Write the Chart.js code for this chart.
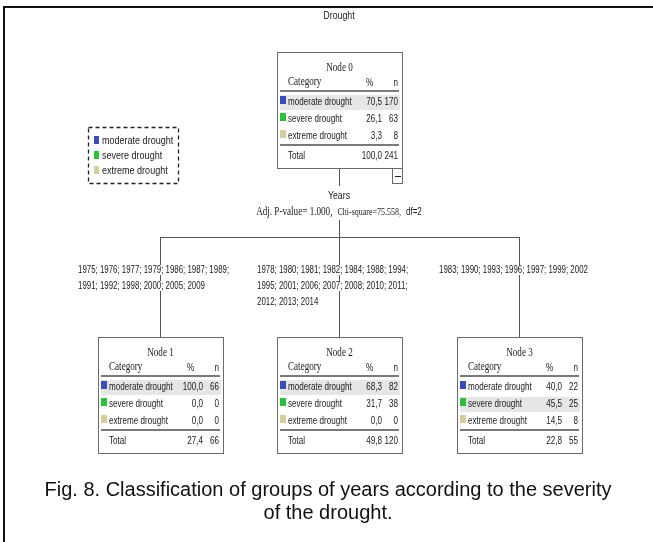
<!DOCTYPE html>
<html><head><meta charset="utf-8">
<script src="https://cdn.jsdelivr.net/npm/chart.js@4/dist/chart.umd.min.js"></script>
<style>html,body{margin:0;padding:0;background:#fff}#wrap{width:653px;height:542px;position:relative}</style>
</head><body><div id="wrap"><canvas id="c" width="653" height="542"></canvas></div>
<script>
// ---- data ----
const chartTitle = 'Drought';
const categories = ['moderate drought', 'severe drought', 'extreme drought'];
const categoryColors = ['#3b4cb4', '#2fbf3f', '#d5cd9c'];
const rootNode = 'Node 0';
const rootPct = [70.5, 26.1, 3.3];
const rootN = [170, 63, 8];
const rootTotalPct = 100.0;
const rootTotalN = 241;
const splitVariable = 'Years';
const splitStats = ['Adj. P-value= 1.000,', 'Chi-square=75.558,', 'df=2'];
const childNodes = ['Node 1', 'Node 2', 'Node 3'];
const node1Pct = [100.0, 0.0, 0.0];
const node1N = [66, 0, 0];
const node2Pct = [68.3, 31.7, 0.0];
const node2N = [82, 38, 0];
const node3Pct = [40.0, 45.5, 14.5];
const node3N = [22, 25, 8];
const childTotalPct = [27.4, 49.8, 22.8];
const childTotalN = [66, 120, 55];
const yearGroups = [
  ['1975; 1976; 1977; 1979; 1986; 1987; 1989;', '1991; 1992; 1998; 2000; 2005; 2009'],
  ['1978; 1980; 1981; 1982; 1984; 1988; 1994;', '1995; 2001; 2006; 2007; 2008; 2010; 2011;', '2012; 2013; 2014'],
  ['1983; 1990; 1993; 1996; 1997; 1999; 2002']
];
const captionLines = ['Fig. 8. Classification of groups of years according to the severity', 'of the drought.'];

const childPct = [node1Pct, node2Pct, node3Pct];
const childN = [node1N, node2N, node3N];

// ---- drawing helpers ----
const SANS = '"Liberation Sans", Arial, sans-serif';
const SERIF = '"Liberation Serif", "Times New Roman", serif';
const NF = '10.5px ' + SANS, NS = 0.77;   // narrow sans emulation
const YF = '10.5px ' + SANS, YS = 0.75;   // year lists
const TF = '13px ' + SERIF, TS = 0.7;     // condensed serif emulation
const fmt = v => v.toFixed(1).replace('.', ',');

function txt(ctx, s, x, y, align, font, sx) {
  ctx.save();
  ctx.font = font;
  ctx.textAlign = align;
  ctx.textBaseline = 'middle';
  ctx.translate(x, y);
  ctx.scale(sx, 1);
  ctx.fillText(s, 0, 0);
  ctx.restore();
}
function tw(ctx, s, font, sx) {
  ctx.save(); ctx.font = font; const w = ctx.measureText(s).width * sx; ctx.restore(); return w;
}

function drawNode(ctx, cx, T, name, pct, n, totPct, totN, withMinus) {
  const W = 125, H = 116;
  const L = Math.round(cx - W / 2);
  ctx.save();
  ctx.fillStyle = '#fff';
  ctx.fillRect(L, T, W, H);
  ctx.strokeStyle = '#6a6a6a';
  ctx.lineWidth = 1;
  ctx.setLineDash([]);
  ctx.strokeRect(L + 0.5, T + 0.5, W, H);
  let mi = 0;
  n.forEach((v, i) => { if (v > n[mi]) mi = i; });
  ctx.fillStyle = '#e6e6e6';
  ctx.fillRect(L + 3, T + 50 + mi * 17 - 7, W - 5, 15);
  ctx.fillStyle = '#1a1a1a';
  txt(ctx, name, L + W / 2, T + 16, 'center', TF, TS);
  txt(ctx, 'Category', L + 11, T + 30, 'left', TF, TS);
  txt(ctx, '%', L + 92.5, T + 31, 'center', NF, NS);
  txt(ctx, 'n', L + 121, T + 31, 'right', NF, NS);
  ctx.strokeStyle = '#7a7a7a';
  ctx.lineWidth = 2;
  ctx.beginPath();
  ctx.moveTo(L + 3, T + 39); ctx.lineTo(L + W - 3, T + 39);
  ctx.moveTo(L + 3, T + 93); ctx.lineTo(L + W - 3, T + 93);
  ctx.stroke();
  categories.forEach((c, i) => {
    const y = T + 50 + i * 17;
    ctx.fillStyle = categoryColors[i];
    ctx.fillRect(L + 3, y - 6, 6, 8);
    ctx.fillStyle = '#1a1a1a';
    txt(ctx, c, L + 11, y, 'left', NF, NS);
    txt(ctx, fmt(pct[i]), L + 105, y, 'right', NF, NS);
    txt(ctx, String(n[i]), L + 121, y, 'right', NF, NS);
  });
  txt(ctx, 'Total', L + 11, T + 104, 'left', NF, NS);
  txt(ctx, fmt(totPct), L + 105, T + 104, 'right', NF, NS);
  txt(ctx, String(totN), L + 121, T + 104, 'right', NF, NS);
  if (withMinus) {
    ctx.fillStyle = '#fff';
    ctx.fillRect(L + W - 10, T + H, 10, 15);
    ctx.strokeStyle = '#6a6a6a';
    ctx.lineWidth = 1;
    ctx.strokeRect(L + W - 9.5, T + H + 0.5, 10, 15);
    ctx.fillStyle = '#222';
    ctx.fillRect(L + W - 7, T + H + 8, 6, 1);
  }
  ctx.restore();
}

const treePlugin = {
  id: 'tree',
  afterDraw(chart) {
    const ctx = chart.ctx;
    const xs = chart.scales.x;
    const area = chart.chartArea;
    const rootX = Math.round(xs.getPixelForDecimal(0.5));
    const childX = childNodes.map((_, i) => Math.round(xs.getPixelForValue(i)));
    const top = area.top;
    const childTop = top + 285;
    ctx.save();
    // outer frame
    ctx.fillStyle = '#111';
    ctx.fillRect(3, 6, 2, 536);
    ctx.fillRect(3, 6, 650, 2);
    // title
    ctx.fillStyle = '#1a1a1a';
    txt(ctx, chartTitle, rootX, 16, 'center', '11px ' + SANS, 0.8);
    // connectors
    ctx.strokeStyle = '#555';
    ctx.lineWidth = 1;
    ctx.beginPath();
    ctx.moveTo(rootX + 0.5, top + 116); ctx.lineTo(rootX + 0.5, top + 134);
    ctx.moveTo(rootX + 0.5, top + 168); ctx.lineTo(rootX + 0.5, top + 185.5);
    ctx.moveTo(childX[0], top + 185.5); ctx.lineTo(childX[childX.length - 1] + 1, top + 185.5);
    childX.forEach(x => { ctx.moveTo(x + 0.5, top + 185.5); ctx.lineTo(x + 0.5, childTop); });
    ctx.stroke();
    // split info
    ctx.fillStyle = '#1a1a1a';
    txt(ctx, splitVariable, rootX, top + 144, 'center', '11px ' + SANS, 0.8);
    const fonts = [['12px ' + SERIF, 0.76], ['10.5px ' + SERIF, 0.76], [NF, NS]];
    const gap = 5;
    const ws = splitStats.map((s, i) => tw(ctx, s, fonts[i][0], fonts[i][1]));
    const total = ws.reduce((a, b) => a + b, 0) + gap * (splitStats.length - 1);
    let sx = rootX - total / 2;
    splitStats.forEach((s, i) => { txt(ctx, s, sx, top + 160, 'left', fonts[i][0], fonts[i][1]); sx += ws[i] + gap; });
    // year groups
    yearGroups.forEach((lines, g) => {
      const w0 = tw(ctx, lines[0], YF, YS);
      const lx = Math.round(childX[g] - 0.54 * w0);
      lines.forEach((t, j) => {
        const y = top + 218 + j * 16;
        const w = tw(ctx, t, YF, YS);
        ctx.fillStyle = '#fff';
        ctx.fillRect(lx - 1, y - 5, w + 2, 10);
        ctx.fillStyle = '#1a1a1a';
        txt(ctx, t, lx, y, 'left', YF, YS);
      });
    });
    // nodes
    drawNode(ctx, rootX, top, rootNode, rootPct, rootN, rootTotalPct, rootTotalN, true);
    childNodes.forEach((name, i) => {
      drawNode(ctx, childX[i], childTop, name, childPct[i], childN[i], childTotalPct[i], childTotalN[i], false);
    });
    // legend
    ctx.strokeStyle = '#222';
    ctx.lineWidth = 1.3;
    ctx.setLineDash([4, 3]);
    ctx.strokeRect(88.5, 127.5, 90, 56);
    ctx.setLineDash([]);
    categories.forEach((c, i) => {
      const y = 141 + i * 15;
      ctx.fillStyle = categoryColors[i];
      ctx.fillRect(94, y - 5, 5, 8);
      ctx.fillStyle = '#1a1a1a';
      txt(ctx, c, 102, y, 'left', '11px ' + SANS, 0.82);
    });
    // caption
    ctx.fillStyle = '#111';
    captionLines.forEach((t, i) => txt(ctx, t, 328, 490 + i * 23, 'center', '20px ' + SANS, 1));
    ctx.restore();
  }
};

new Chart(document.getElementById('c'), {
  type: 'bar',
  data: {
    labels: childNodes,
    datasets: [{ label: 'Total n', data: childTotalN, backgroundColor: 'rgba(0,0,0,0)', borderWidth: 0 }]
  },
  options: {
    responsive: false,
    animation: false,
    layout: { padding: { left: 69.75, right: 44.75, top: 52, bottom: 89 } },
    plugins: { legend: { display: false }, tooltip: { enabled: false }, title: { display: false } },
    scales: {
      x: { display: false, offset: true },
      y: { display: false, beginAtZero: true }
    }
  },
  plugins: [treePlugin]
});
</script>
</body></html>
